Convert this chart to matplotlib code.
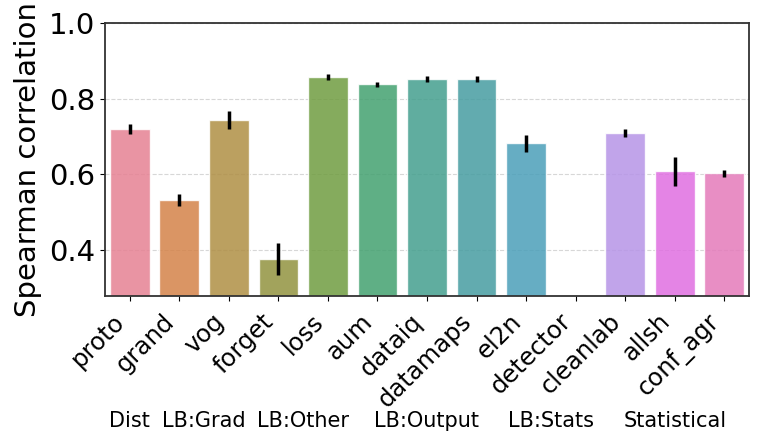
import numpy as np
import matplotlib
matplotlib.use("Agg")
import matplotlib.pyplot as plt
import matplotlib.transforms as mtransforms
import seaborn as sns

methods = ['proto', 'grand', 'vog', 'forget', 'loss', 'aum', 'dataiq',
           'datamaps', 'el2n', 'detector', 'cleanlab', 'allsh', 'conf_agr']
corr = [0.720, 0.532, 0.743, 0.377, 0.857, 0.838, 0.853,
        0.853, 0.682, np.nan, 0.709, 0.608, 0.602]
err_lo = [0.013, 0.016, 0.023, 0.043, 0.008, 0.006, 0.008,
          0.008, 0.022, 0.0, 0.010, 0.038, 0.010]
err_hi = [0.013, 0.016, 0.023, 0.041, 0.008, 0.006, 0.008,
          0.008, 0.022, 0.0, 0.010, 0.038, 0.010]

groups = ['Dist', 'LB:Grad', 'LB:Other', 'LB:Output', 'LB:Stats', 'Statistical']
group_pos = [0, 1.5, 3.5, 6, 8.5, 11]

# seaborn-style palette (husl, desaturated like barplot does)
pal = [sns.desaturate(c, 0.75) for c in sns.color_palette("husl", len(methods))]

fig = plt.figure(figsize=(7.61, 4.46), dpi=100)
ax = fig.add_axes([105 / 761, 1 - 296 / 446, 644 / 761, 273 / 446])

x = np.arange(len(methods))
ax.bar(x, corr, width=0.8, color=pal, alpha=0.85, edgecolor='white',
       linewidth=1, zorder=2)
ax.errorbar(x, corr, yerr=[err_lo, err_hi], fmt='none', ecolor='black',
            elinewidth=2.5, capsize=0, zorder=3)

ax.set_ylim(0.278, 1.0)
ax.set_xlim(-0.5, len(methods) - 0.5)
ax.set_yticks([0.4, 0.6, 0.8, 1.0])
ax.tick_params(axis='y', labelsize=21)
ax.tick_params(axis='x', pad=6)
ax.set_xticks(x)
ax.set_xticklabels(methods, rotation=45, ha='right', fontsize=17.5)
ax.set_ylabel('Spearman correlation', fontsize=21)
ax.yaxis.set_label_coords(-0.098, 0.5)
ax.grid(axis='y', linestyle='--', color='lightgrey', alpha=0.9, zorder=0)
ax.set_axisbelow(True)
for s in ax.spines.values():
    s.set_color('#333333')
    s.set_linewidth(1.3)

# group names under the tick labels
trans = mtransforms.blended_transform_factory(ax.transData, fig.transFigure)
for g, p in zip(groups, group_pos):
    ax.text(p, 1 - 421 / 446, g, transform=trans, ha='center',
            va='center', fontsize=15)

fig.savefig('out.png', dpi=100)
